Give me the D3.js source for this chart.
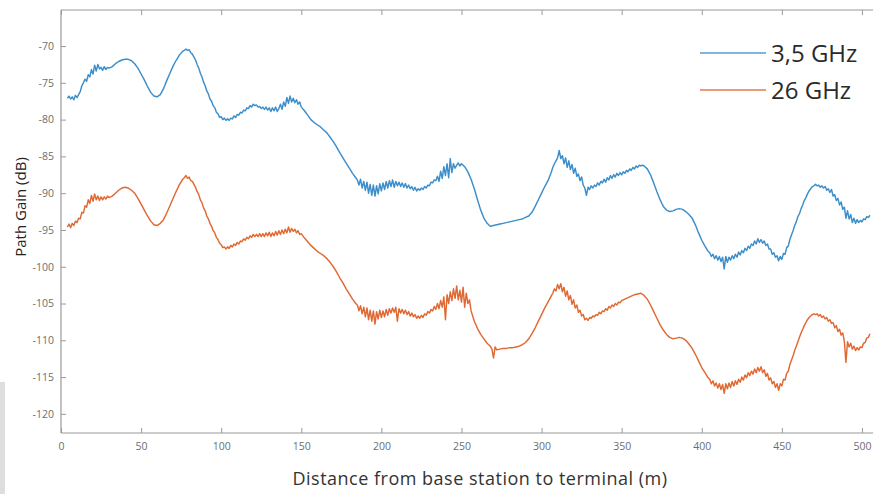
<!DOCTYPE html>
<html><head><meta charset="utf-8">
<script src="https://cdn.jsdelivr.net/npm/d3@7/dist/d3.min.js"></script>
<style>
html,body{margin:0;padding:0;background:#fff;}
svg{display:block;font-family:"Open Sans","Noto Sans",sans-serif;}
</style></head>
<body>
<svg id="chart" width="879" height="494"></svg>
<script>
// ---- data ----
const seriesNames = ["3,5 GHz", "26 GHz"];
const xTicks = [0, 50, 100, 150, 200, 250, 300, 350, 400, 450, 500];
const yTicks = [-120, -115, -110, -105, -100, -95, -90, -85, -80, -75, -70];

const gain35 = [[4,-77.1],[5,-76.8],[6,-77.2],[7,-76.9],[8,-77.3],[9,-76.7],[10,-77.0],[11,-76.6],[12,-76.2],[13,-75.4],[14,-75.0],[15,-74.5],[16,-74.8],[17,-73.9],[18,-74.2],[19,-73.2],[20,-73.8],[21,-72.6],[22,-73.4],[23,-72.5],[24,-73.1],[25,-72.9],[26,-73.3],[27,-72.8],[28,-73.2],[29,-72.9],[30,-73.0],
[32,-72.8],[34,-72.4],[36,-72.1],[38,-71.9],[40,-71.8],[42,-71.8],[44,-72.0],[46,-72.4],[48,-73.0],[50,-73.8],[52,-74.6],[54,-75.5],[56,-76.3],[58,-76.8],[60,-76.9],[62,-76.6],[64,-75.8],[66,-74.7],[68,-73.7],[70,-72.7],[72,-71.9],[74,-71.2],[76,-70.7],
[77,-70.6],[78,-70.4],[79,-70.6],[80,-70.5],[81,-70.9],[82,-71.1],[83,-71.5],[84,-71.9],[85,-72.5],[86,-73.0],[87,-73.7],[88,-74.2],[89,-74.9],[90,-75.4],[91,-76.1],[92,-76.5],[93,-77.2],[94,-77.5],[95,-78.1],[96,-78.4],[97,-79.0],[98,-79.2],[99,-79.7],[100,-79.6],[101,-80.0],[102,-79.8],[103,-80.1],[104,-79.9],[105,-80.1],[106,-79.8],[107,-79.9],[108,-79.5],[109,-79.7],[110,-79.3],[111,-79.4],[112,-79.0],[113,-79.1],[114,-78.7],[115,-78.8],[116,-78.4],[117,-78.5],[118,-78.1],[119,-78.3],[120,-77.9],[121,-78.1],[122,-78.0],[123,-78.3],[124,-78.2],[125,-78.5],[126,-78.3],[127,-78.6],[128,-78.3],[129,-78.7],[130,-78.4],[131,-78.9],[132,-78.4],[133,-78.8],[134,-78.3],[135,-78.9],[136,-78.5],[137,-77.9],[138,-78.6],[139,-77.6],[140,-78.2],[141,-77.0],[142,-77.8],[143,-76.8],[144,-77.6],[145,-77.1],[146,-77.7],[147,-77.3],[148,-77.9],[149,-77.6],[150,-78.3],
[152,-78.8],[154,-79.4],[156,-80.0],[158,-80.4],[160,-80.7],[162,-81.0],[164,-81.4],[166,-81.8],[168,-82.4],[170,-83.0],[172,-83.7],[174,-84.5],[176,-85.2],[178,-85.9],[180,-86.6],[182,-87.3],[184,-87.9],
[185,-88.2],[186,-88.9],[187,-88.1],[188,-89.3],[189,-88.4],[190,-89.6],[191,-88.5],[192,-90.0],[193,-88.8],[194,-90.3],[195,-88.9],[196,-90.4],[197,-89.0],[198,-90.1],[199,-88.7],[200,-89.7],[201,-88.6],[202,-89.5],[203,-88.4],[204,-89.3],[205,-88.3],[206,-89.1],[207,-88.2],[208,-89.2],[209,-88.4],[210,-89.0],[211,-88.5],[212,-89.1],[213,-88.6],[214,-89.2],[215,-88.7],[216,-89.3],[217,-88.9],[218,-89.4],[219,-89.1],[220,-89.6],[221,-89.2],[222,-89.7],[223,-89.4],[224,-89.6],[225,-89.3],[226,-89.5],[227,-89.1],[228,-89.3],[229,-88.9],[230,-89.0],[231,-88.5],[232,-88.6],[233,-88.2],[234,-88.3],[235,-87.7],[236,-88.4],[237,-87.0],[238,-88.0],[239,-86.4],[240,-87.6],[241,-86.0],[242,-87.9],[243,-85.3],[244,-87.2],[245,-86.0],[246,-86.6],
[247,-86.2],[248,-85.9],[249,-86.3],[250,-86.0],[252,-86.4],[254,-87.1],[256,-88.1],[258,-89.4],[260,-90.9],[262,-92.3],[264,-93.4],[266,-94.1],[268,-94.5],[270,-94.4],[272,-94.3],[274,-94.2],[276,-94.1],[278,-94.0],[280,-93.9],[282,-93.8],[284,-93.7],[286,-93.6],[288,-93.5],[290,-93.3],[292,-93.1],[294,-92.6],[296,-91.8],[298,-90.9],[300,-90.0],[302,-89.1],[304,-88.3],[306,-87.2],
[307,-86.5],[308,-86.0],[309,-85.6],[310,-85.2],[311,-84.2],[312,-85.3],[313,-84.9],[314,-86.0],[315,-85.2],[316,-86.5],[317,-85.6],[318,-86.8],[319,-86.1],[320,-87.3],[321,-86.6],[322,-87.7],[323,-87.4],[324,-88.3],[325,-87.8],[326,-88.9],[327,-89.3],[328,-90.3],[329,-89.2],[330,-89.5],[331,-89.0],[332,-89.3],[333,-88.9],[334,-89.1],[335,-88.6],[336,-88.9],[337,-88.4],[338,-88.6],[339,-88.1],[340,-88.5],[341,-87.9],[342,-88.2],[343,-87.6],[344,-88.0],[345,-87.5],[346,-87.8],[347,-87.3],[348,-87.6],[349,-87.2],[350,-87.5],[351,-87.1],[352,-87.3],[353,-86.9],[354,-87.1],[355,-86.7],[356,-86.9],[357,-86.5],[358,-86.7],[359,-86.3],[360,-86.5],[361,-86.2],[362,-86.3],[363,-86.2],
[364,-86.3],[366,-86.7],[368,-87.5],[370,-88.6],[372,-89.8],[374,-90.9],[376,-91.8],[378,-92.3],[380,-92.5],[382,-92.4],[384,-92.2],[386,-92.1],[388,-92.2],[390,-92.5],[392,-92.9],[394,-93.4],[396,-94.3],[398,-95.4],[400,-96.4],[402,-97.2],[404,-97.9],
[405,-98.1],[406,-98.6],[407,-98.3],[408,-98.9],[409,-98.5],[410,-99.1],[411,-98.6],[412,-99.3],[413,-98.7],[414,-100.3],[415,-98.6],[416,-99.4],[417,-98.7],[418,-99.1],[419,-98.5],[420,-98.9],[421,-98.3],[422,-98.7],[423,-98.0],[424,-98.4],[425,-97.8],[426,-98.1],[427,-97.5],[428,-97.8],[429,-97.2],[430,-97.5],[431,-96.9],[432,-97.1],[433,-96.5],[434,-96.9],[435,-96.2],[436,-96.7],[437,-96.3],[438,-96.8],[439,-96.5],[440,-97.1],[441,-96.9],[442,-97.6],[443,-97.6],[444,-98.3],[445,-98.1],[446,-98.7],[447,-98.5],[448,-99.2],[449,-98.6],[450,-99.0],[451,-98.2],[452,-98.3],[453,-97.4],[454,-97.2],[455,-96.3],[456,-95.7],
[457,-95.1],[458,-94.4],[459,-93.9],[460,-93.2],[461,-92.8],[462,-92.1],[463,-91.6],[464,-91.0],[465,-90.6],[466,-90.1],[467,-89.7],[468,-89.4],[469,-89.1],[470,-89.0],[471,-88.8],[472,-89.0],[473,-88.9],[474,-89.2],[475,-89.0],[476,-89.3],[477,-89.1],[478,-89.6],[479,-89.4],[480,-89.9],[481,-89.5],[482,-90.4],[483,-90.2],[484,-91.0],[485,-90.7],[486,-91.6],[487,-91.2],[488,-92.2],[489,-91.9],[490,-93.4],[491,-92.4],[492,-93.5],[493,-92.9],[494,-94.0],[495,-93.4],[496,-94.1],[497,-93.6],[498,-94.0],[499,-93.7],[500,-93.9],[501,-93.5],[502,-93.6],[503,-93.2],[504,-93.3],[505,-93.0]];

const gain26 = [[4,-94.6],[5,-94.2],[6,-94.7],[7,-94.1],[8,-94.4],[9,-93.8],[10,-94.0],[11,-93.4],[12,-93.5],[13,-92.6],[14,-92.7],[15,-91.7],[16,-91.9],[17,-90.9],[18,-91.4],[19,-90.3],[20,-91.1],[21,-90.1],[22,-90.9],[23,-90.4],[24,-91.0],[25,-90.5],[26,-90.9],[27,-90.5],[28,-90.8],[29,-90.4],[30,-90.6],
[32,-90.4],[34,-90.0],[36,-89.6],[38,-89.3],[40,-89.2],[42,-89.3],[44,-89.6],[46,-90.0],[48,-90.7],[50,-91.5],[52,-92.3],[54,-93.1],[56,-93.8],[58,-94.3],[60,-94.4],[62,-94.1],[64,-93.6],[66,-92.7],[68,-91.7],[70,-90.7],[72,-89.7],[74,-88.8],[76,-88.1],
[77,-87.9],[78,-87.6],[79,-88.0],[80,-87.8],[81,-88.3],[82,-88.4],[83,-88.8],[84,-89.2],[85,-89.8],[86,-90.2],[87,-90.9],[88,-91.3],[89,-92.0],[90,-92.4],[91,-93.1],[92,-93.5],[93,-94.1],[94,-94.5],[95,-95.1],[96,-95.4],[97,-96.0],[98,-96.3],[99,-96.8],[100,-97.0],[101,-97.4],[102,-97.3],[103,-97.6],[104,-97.3],[105,-97.5],[106,-97.1],[107,-97.3],[108,-96.9],[109,-97.1],[110,-96.7],[111,-96.9],[112,-96.5],[113,-96.6],[114,-96.2],[115,-96.4],[116,-96.0],[117,-96.2],[118,-95.8],[119,-96.0],[120,-95.6],[121,-95.9],[122,-95.6],[123,-95.9],[124,-95.5],[125,-95.9],[126,-95.5],[127,-95.9],[128,-95.4],[129,-95.8],[130,-95.3],[131,-95.9],[132,-95.4],[133,-95.8],[134,-95.2],[135,-95.7],[136,-95.1],[137,-95.6],[138,-95.0],[139,-95.5],[140,-94.9],[141,-95.4],[142,-94.6],[143,-95.3],[144,-94.8],[145,-95.2],[146,-94.9],[147,-95.4],[148,-95.1],[149,-95.6],[150,-95.5],
[152,-96.1],[154,-96.6],[156,-97.1],[158,-97.5],[160,-97.9],[162,-98.2],[164,-98.5],[166,-98.9],[168,-99.4],[170,-100.0],[172,-100.7],[174,-101.5],[176,-102.2],[178,-103.0],[180,-103.7],[182,-104.4],[184,-105.0],
[185,-105.2],[186,-106.0],[187,-105.3],[188,-106.4],[189,-105.5],[190,-106.8],[191,-105.6],[192,-107.2],[193,-105.9],[194,-107.4],[195,-106.0],[196,-107.8],[197,-106.1],[198,-107.1],[199,-105.9],[200,-106.9],[201,-106.0],[202,-106.8],[203,-105.8],[204,-106.6],[205,-105.7],[206,-106.3],[207,-105.6],[208,-106.2],[209,-105.5],[210,-107.4],[211,-105.7],[212,-106.3],[213,-105.8],[214,-106.4],[215,-105.9],[216,-106.5],[217,-106.1],[218,-106.7],[219,-106.3],[220,-106.8],[221,-106.5],[222,-107.0],[223,-106.7],[224,-107.0],[225,-106.6],[226,-106.9],[227,-106.4],[228,-106.6],[229,-106.1],[230,-106.3],[231,-105.8],[232,-106.0],[233,-105.4],[234,-105.8],[235,-105.0],[236,-105.7],[237,-104.6],[238,-105.5],[239,-104.1],[240,-107.2],[241,-103.8],[242,-105.0],[243,-103.4],[244,-104.6],[245,-103.0],[246,-104.3],[247,-102.6],[248,-104.5],[249,-103.2],[250,-104.8],[251,-102.8],[252,-105.5],[253,-103.6],[254,-105.0],[255,-104.5],[256,-106.0],
[258,-107.4],[260,-108.4],[262,-109.2],[264,-109.8],[266,-110.4],[268,-110.8],[269,-111.2],[270,-112.4],[271,-110.9],[272,-111.3],[274,-111.2],[276,-111.1],[278,-111.1],[280,-111.0],[282,-111.0],[284,-110.9],[286,-110.8],[288,-110.6],[290,-110.3],[292,-109.8],[294,-109.1],[296,-108.3],[298,-107.4],[300,-106.5],[302,-105.6],[304,-104.8],[306,-104.0],
[307,-103.6],[308,-103.0],[309,-103.3],[310,-102.4],[311,-103.0],[312,-102.3],[313,-103.4],[314,-102.8],[315,-104.0],[316,-103.3],[317,-104.5],[318,-103.9],[319,-105.1],[320,-104.5],[321,-105.6],[322,-105.2],[323,-106.2],[324,-105.9],[325,-106.7],[326,-106.5],[327,-107.2],[328,-107.0],[329,-107.3],[330,-106.9],
[331,-107.0],[332,-106.7],[333,-106.8],[334,-106.5],[335,-106.6],[336,-106.2],[337,-106.4],[338,-106.0],[339,-106.1],[340,-105.7],[341,-105.9],[342,-105.4],[343,-105.6],[344,-105.2],[345,-105.4],[346,-105.0],[347,-105.2],[348,-104.8],[349,-104.9],[350,-104.6],[352,-104.4],[354,-104.2],[356,-104.0],[358,-103.8],[360,-103.7],[362,-103.6],[364,-103.9],[366,-104.4],[368,-105.2],[370,-106.1],[372,-107.0],[374,-107.9],[376,-108.6],[378,-109.2],[380,-109.6],[382,-109.8],[384,-109.7],[386,-109.6],[388,-109.7],[390,-110.0],[392,-110.5],[394,-111.1],[396,-111.9],[398,-112.8],[400,-113.7],[402,-114.4],[404,-115.1],
[405,-115.3],[406,-115.9],[407,-115.5],[408,-116.2],[409,-115.8],[410,-116.5],[411,-115.9],[412,-116.7],[413,-116.0],[414,-117.2],[415,-115.9],[416,-116.6],[417,-115.8],[418,-116.4],[419,-115.6],[420,-116.2],[421,-115.5],[422,-116.0],[423,-115.3],[424,-115.7],[425,-115.0],[426,-115.4],[427,-114.7],[428,-115.1],[429,-114.4],[430,-114.8],[431,-114.2],[432,-114.6],[433,-113.9],[434,-114.4],[435,-113.7],[436,-114.2],[437,-113.6],[438,-114.4],[439,-114.0],[440,-114.9],[441,-114.5],[442,-115.4],[443,-115.1],[444,-115.9],[445,-115.6],[446,-116.4],[447,-115.9],[448,-116.8],[449,-115.9],[450,-116.2],[451,-115.3],[452,-115.4],[453,-114.5],[454,-114.2],[455,-113.3],[456,-112.7],
[457,-112.1],[458,-111.4],[459,-110.8],[460,-110.2],[461,-109.6],[462,-109.0],[463,-108.5],[464,-108.0],[465,-107.6],[466,-107.2],[467,-106.9],[468,-106.7],[469,-106.5],[470,-106.4],[471,-106.5],[472,-106.4],[473,-106.7],[474,-106.5],[475,-106.9],[476,-106.7],[477,-107.1],[478,-106.9],[479,-107.4],[480,-107.2],[481,-107.7],[482,-107.6],[483,-108.3],[484,-108.0],[485,-108.8],[486,-108.5],[487,-109.3],[488,-109.0],[489,-110.1],[490,-113.0],[491,-110.2],[492,-110.9],[493,-110.4],[494,-111.2],[495,-110.8],[496,-111.4],[497,-111.0],[498,-111.3],[499,-110.9],[500,-111.0],[501,-110.4],[502,-110.3],[503,-109.7],[504,-109.6],[505,-109.1]];

const colors = ["#2b84c6", "#dd5b22"];

// ---- layout ----
const svg = d3.select("#chart");
const L = 61, T = 10, R = 873, B = 433;
const x = d3.scaleLinear().domain([0, 506.9]).range([L, R]);
const y = d3.scaleLinear().domain([-122.6, -65.1]).range([B, T]);

// photo artifact strip at left edge
svg.append("rect").attr("x", 0).attr("y", 382).attr("width", 5).attr("height", 112).attr("fill", "#dedede");

// axes
const axColor = "#9a9a9a", txtColor = "#6e6e6e";
const xAxis = svg.append("g").attr("transform", `translate(0,${B})`)
  .call(d3.axisBottom(x).tickValues(xTicks).tickSize(-5).tickPadding(10).tickFormat(d => String(d)));
const xTop = svg.append("g").attr("transform", `translate(0,${T})`)
  .call(d3.axisTop(x).tickValues(xTicks).tickSize(-5).tickFormat(""));
const yAxis = svg.append("g").attr("transform", `translate(${L},0)`)
  .call(d3.axisLeft(y).tickValues(yTicks).tickSize(-5).tickPadding(7).tickFormat(d => String(d)));
[xAxis, xTop, yAxis].forEach(g => {
  g.select(".domain").attr("stroke", axColor).attr("stroke-width", 1.2);
  g.selectAll(".tick line").attr("stroke", axColor);
  g.selectAll("text").attr("fill", txtColor).style("font-size", "10.5px")
    .style("font-family", "'Open Sans','Noto Sans',sans-serif");
});
xTop.select(".domain").attr("d", `M${L},0H${R}`);
yAxis.select(".domain").attr("d", `M0,${T}V${B}`);
xAxis.select(".domain").attr("d", `M${L},0H${R}`);

// lines
const line = d3.line().x(d => x(d[0])).y(d => y(d[1]));
[gain35, gain26].forEach((s, i) => {
  svg.append("path").datum(s).attr("d", line).attr("fill", "none")
    .attr("stroke", colors[i]).attr("stroke-width", 1.45).attr("stroke-linejoin", "round")
    .attr("stroke-opacity", 0.92);
});

// legend
const legendY = [53, 90];
seriesNames.forEach((n, i) => {
  svg.append("line").attr("x1", 700).attr("x2", 766).attr("y1", legendY[i]).attr("y2", legendY[i])
    .attr("stroke", colors[i]).attr("stroke-width", 1.6).attr("stroke-opacity", 0.8);
  svg.append("text").attr("x", 771).attr("y", legendY[i] + 8.5).text(n)
    .attr("fill", "#2a2a2a").style("font-size", "24px");
});

// axis titles
svg.append("text").attr("x", 480).attr("y", 485).attr("text-anchor", "middle")
  .attr("fill", "#333").style("font-size", "18px").style("letter-spacing", "0.5px")
  .text("Distance from base station to terminal (m)");
svg.append("text").attr("transform", "translate(26,207) rotate(-90)").attr("text-anchor", "middle")
  .attr("fill", "#222").style("font-size", "15px").text("Path Gain (dB)");
</script>
</body></html>
